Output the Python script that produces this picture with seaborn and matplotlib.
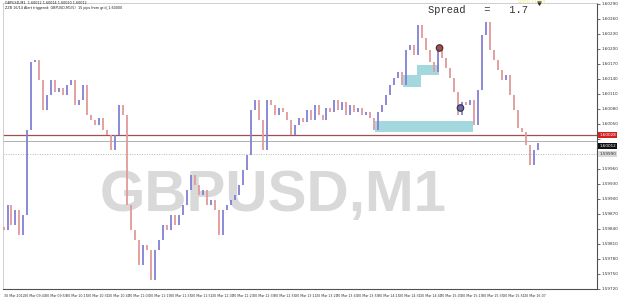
import numpy as np
import pandas as pd
import matplotlib
matplotlib.use("Agg")
import matplotlib.pyplot as plt
import matplotlib.transforms as mtransforms
from matplotlib.patches import Rectangle
import seaborn as sns

# ---- data ----
closes = [
    1.59838, 1.59888, 1.59848, 1.59878, 1.59828, 1.59868, 1.60038, 1.60174, 1.60178, 1.60138,
    1.60078, 1.60108, 1.60138, 1.60114, 1.60122, 1.60108, 1.60128, 1.60138, 1.60088, 1.60098,
    1.60128, 1.60068, 1.60058, 1.60048, 1.60062, 1.60038, 1.60028, 1.59998, 1.60028, 1.60088,
    1.60068, 1.59888, 1.59838, 1.59818, 1.59768, 1.59808, 1.59798, 1.59738, 1.59798, 1.59818,
    1.59848, 1.59838, 1.59868, 1.59848, 1.59868, 1.59888, 1.59918, 1.59948, 1.59928, 1.59908,
    1.59918, 1.59888, 1.59898, 1.59878, 1.59828, 1.59878, 1.59888, 1.59898, 1.59908, 1.59928,
    1.59958, 1.59988, 1.60078, 1.60098, 1.60058, 1.59998, 1.60098, 1.60088, 1.60068, 1.60082,
    1.60074, 1.60058, 1.60028, 1.60048, 1.60062, 1.60054, 1.60078, 1.60058, 1.60088, 1.60068,
    1.60058, 1.60082, 1.60074, 1.60098, 1.60078, 1.60094, 1.60068, 1.60088, 1.60074, 1.60082,
    1.60068, 1.60074, 1.60062, 1.60038, 1.60074, 1.60088, 1.60108, 1.60128, 1.60142, 1.60154,
    1.60128, 1.60198, 1.60208, 1.60188, 1.60248, 1.60222, 1.60198, 1.60174, 1.60154, 1.60198,
    1.60182, 1.60162, 1.60142, 1.60114, 1.60068, 1.60094, 1.60088, 1.60098, 1.60048, 1.60118,
    1.60228, 1.60254, 1.60198, 1.60178, 1.60158, 1.60138, 1.60148, 1.60108, 1.60078, 1.60042,
    1.60034, 1.60008, 1.59968, 1.59998, 1.60012,
]
session_minutes = 411          # 09:27 -> 16:18
xtick_labels = ["30 Mar 2012", "30 Mar 09:43", "30 Mar 09:59", "30 Mar 10:15", "30 Mar 10:31",
                "30 Mar 10:47", "30 Mar 11:03", "30 Mar 11:19", "30 Mar 11:35", "30 Mar 11:51",
                "30 Mar 12:07", "30 Mar 12:23", "30 Mar 12:39", "30 Mar 12:55", "30 Mar 13:11",
                "30 Mar 13:27", "30 Mar 13:43", "30 Mar 13:59", "30 Mar 14:15", "30 Mar 14:31",
                "30 Mar 14:47", "30 Mar 15:03", "30 Mar 15:19", "30 Mar 15:35", "30 Mar 15:51",
                "30 Mar 16:07"]
xtick_minutes = [16 * i for i in range(len(xtick_labels))]
ytick_values = [round(1.59720 + 0.0003 * k, 5) for k in range(20)]

# zones: (start minute, end minute, low price, high price)
zone_start = [286.0, 307.0, 317.7]
zone_end = [361.5, 321.5, 334.6]
zone_low = [1.60034, 1.60124, 1.60148]
zone_high = [1.60056, 1.60148, 1.60168]

marker_minutes = [335.4, 351.5]
marker_prices = [1.60202, 1.60082]
marker_kind = ["sell", "buy"]

ask_line = 1.60028
bid_line = 1.60016
bid_label = 1.60012
grid_line = 1.59990

# ---- figure ----
sns.set_style("white")
plt.rcParams["font.family"] = ["DejaVu Sans"]

fig = plt.figure(figsize=(6.25, 2.97), dpi=100)
fig.patch.set_facecolor("white")
ax = fig.add_axes([3 / 625, 8 / 297, 594 / 625, 286 / 297])
ax.set_facecolor("white")

ax.set_xlim(-0.4, -0.4 + 594 / 1.3)
ax.set_ylim(1.59720, 1.60292)

# watermark
ax.text(0.455, 0.325, "GBPUSD,M1", transform=ax.transAxes, fontsize=42,
        color="#d9d9d9", fontweight="bold",
        family=["Liberation Sans", "DejaVu Sans"],
        ha="center", va="center", zorder=0)

# zones
for s, e, lo, hi in zip(zone_start, zone_end, zone_low, zone_high):
    ax.add_patch(Rectangle((s, lo), e - s, hi - lo, facecolor="#a3d9de",
                           edgecolor="none", zorder=1))

# price lines
ax.axhline(ask_line, color="#a05050", lw=0.9, zorder=2)
ax.axhline(bid_line, color="#b0b0b0", lw=0.7, zorder=2)
ax.axhline(grid_line, color="#b8b8b8", lw=0.7, ls=(0, (1, 1.5)), zorder=2)

# bars
times = np.linspace(0, session_minutes, len(closes))
opens = [closes[0] + 0.00006] + closes[:-1]
df = pd.DataFrame({"t": times, "open": opens, "close": closes})
up = df["close"] >= df["open"]
ax.vlines(df.loc[up, "t"], df.loc[up, "open"], df.loc[up, "close"],
          colors="#8080d6", lw=1.3, zorder=3)
ax.vlines(df.loc[~up, "t"], df.loc[~up, "open"], df.loc[~up, "close"],
          colors="#e29a9a", lw=1.3, zorder=3)

# markers
mk = pd.DataFrame({"t": marker_minutes, "p": marker_prices, "kind": marker_kind})
sns.scatterplot(data=mk, x="t", y="p", hue="kind",
                palette={"sell": "#b04848", "buy": "#6a6ab8"},
                s=22, edgecolor="#303030", linewidth=0.8, legend=False, ax=ax, zorder=5)
ax.set_xlabel("")
ax.set_ylabel("")

# axes styling
for side in ["left", "top"]:
    ax.spines[side].set_color("#c8c8c8")
    ax.spines[side].set_linewidth(0.6)
for side in ["right", "bottom"]:
    ax.spines[side].set_color("#505050")
    ax.spines[side].set_linewidth(0.8)

ax.set_xticks(xtick_minutes)
ax.set_xticklabels(xtick_labels)
for lab in ax.get_xticklabels():
    lab.set_horizontalalignment("left")
ax.tick_params(axis="x", direction="out", length=2, width=0.5, pad=1.5,
               labelsize=2.3, colors="#333333")

ax.yaxis.tick_right()
ax.set_yticks(ytick_values)
special = [ask_line, bid_label, grid_line]
ax.set_yticklabels(["" if any(abs(v - s) < 0.00012 for s in special) else f"{v:.5f}"
                    for v in ytick_values])
ax.tick_params(axis="y", direction="out", length=2, width=0.5, pad=1.5,
               labelsize=3.0, colors="#333333")

# price labels on the axis
trans = mtransforms.blended_transform_factory(ax.transAxes, ax.transData)
ax.text(1.004, ask_line, f"{ask_line:.5f}", transform=trans, fontsize=3.0, color="white",
        va="center", ha="left",
        bbox=dict(boxstyle="square,pad=0.25", fc="#d02020", ec="none"), clip_on=False)
ax.text(1.004, bid_label - 0.00006, f"{bid_label:.5f}", transform=trans, fontsize=3.0,
        color="white", va="center", ha="left",
        bbox=dict(boxstyle="square,pad=0.25", fc="#101010", ec="none"), clip_on=False)
ax.text(1.004, grid_line, f"{grid_line:.5f}", transform=trans, fontsize=3.0, color="#333333",
        va="center", ha="left",
        bbox=dict(boxstyle="square,pad=0.25", fc="#d8d8d8", ec="none"), clip_on=False)

# chart-shift marker
ax.scatter([(538 - 3) / 1.3], [1.60292], marker="v", s=5, color="#303030",
           clip_on=False, zorder=6)

# header texts
fig.text(5 / 625, 1 - 3.5 / 297, "GBPUSD,M1  1.60012 1.60014 1.60010 1.60012",
         fontsize=2.4, color="#222222", va="center", ha="left")
fig.text(5 / 625, 1 - 8 / 297,
         "ZZB 16/14 Alert triggered: GBPUSD,M1(5)  15 pips from grid_1.60000",
         fontsize=2.4, color="#222222", va="center", ha="left")
fig.text(428 / 625, 1 - 10 / 297, "Spread   =   1.7", family=["Liberation Mono", "DejaVu Sans Mono"],
         fontsize=7.5, color="#333333", va="center", ha="left")
fig.text(518 / 625, 1 - 2.3 / 297, "1.60012-1.60029", fontsize=2.3, color="#e8e070",
         va="center", ha="left")

fig.savefig("out.png", dpi=100, facecolor="white")
